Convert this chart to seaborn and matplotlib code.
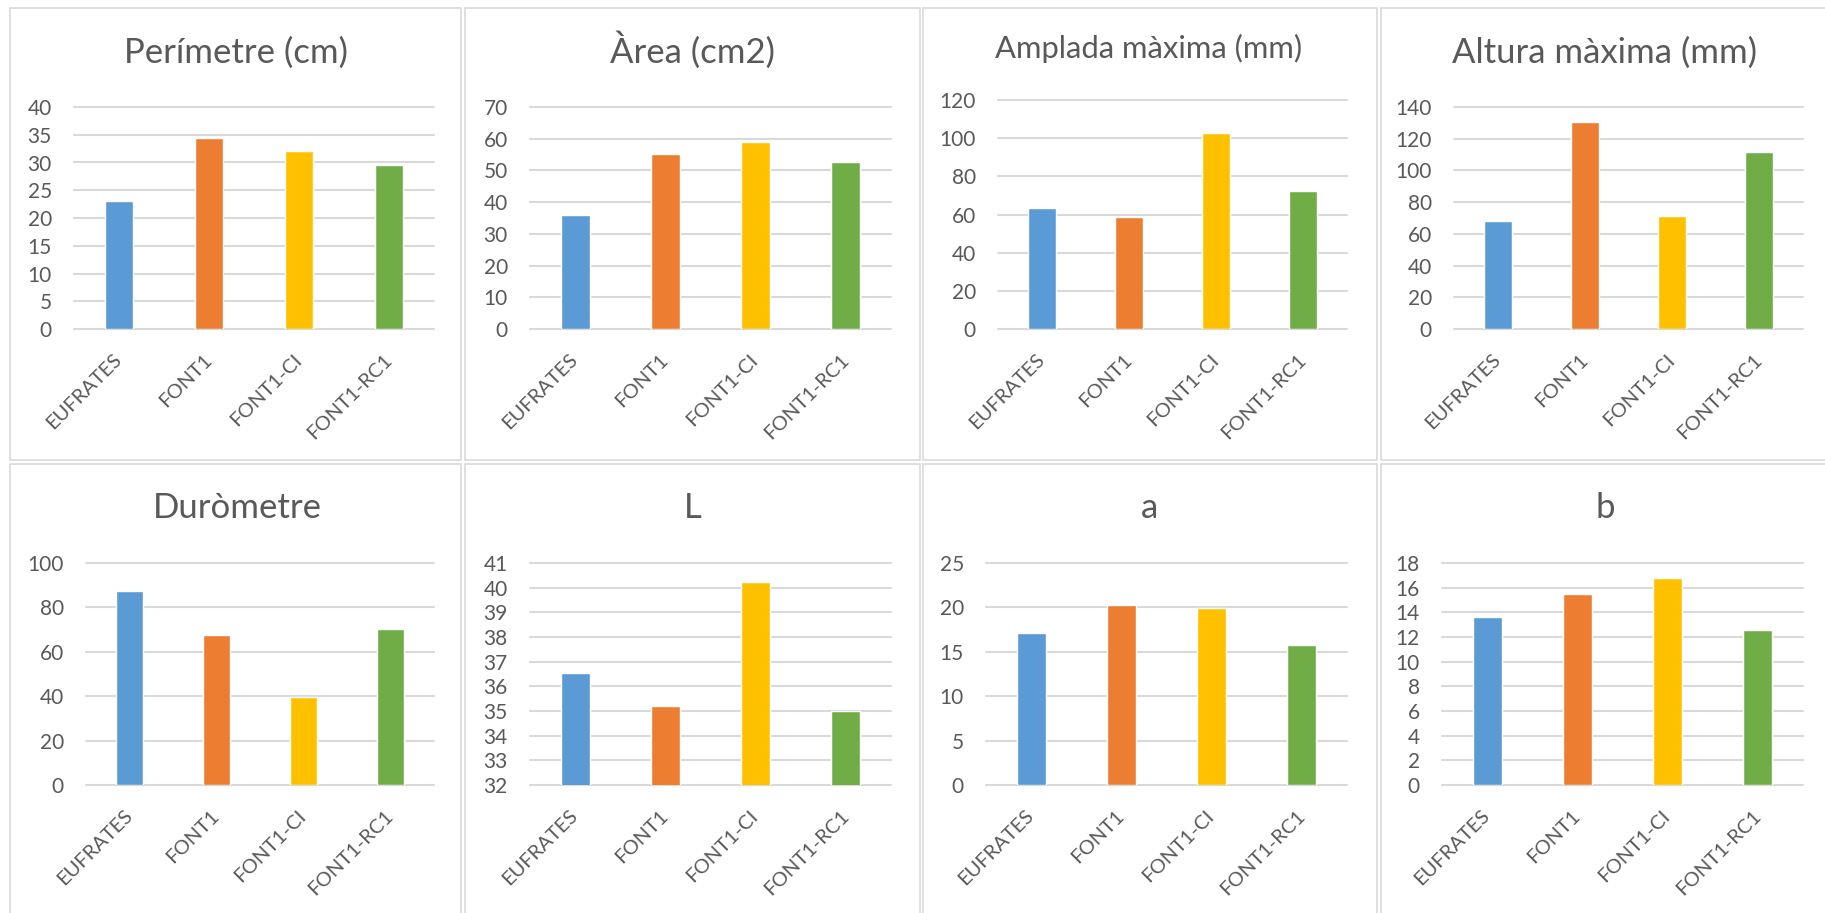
import matplotlib
matplotlib.use("Agg")
import matplotlib.pyplot as plt
from matplotlib.patches import Rectangle
import seaborn as sns
import pandas as pd

# ---- data ----
categories = ["EUFRATES", "FONT1", "FONT1-CI", "FONT1-RC1"]
perimetre = [23.0, 34.4, 32.0, 29.5]
area = [35.9, 55.1, 58.9, 52.6]
amplada = [63.4, 58.7, 102.7, 72.3]
altura = [68.0, 130.3, 71.2, 111.5]
durometre = [87.3, 67.5, 39.7, 70.2]
lum_L = [36.53, 35.2, 40.22, 35.0]
chroma_a = [17.1, 20.24, 19.9, 15.74]
chroma_b = [13.6, 15.46, 16.76, 12.55]

titles = ["Perímetre (cm)", "Àrea (cm2)", "Amplada màxima (mm)", "Altura màxima (mm)",
          "Duròmetre", "L", "a", "b"]
series = [perimetre, area, amplada, altura, durometre, lum_L, chroma_a, chroma_b]
yranges = [(0, 40, 5), (0, 70, 10), (0, 120, 20), (0, 140, 20),
           (0, 100, 20), (32, 41, 1), (0, 25, 5), (0, 18, 2)]

colors = ["#5B9BD5", "#ED7D31", "#FFC000", "#70AD47"]

sns.set_theme(style="white")
plt.rcParams["font.family"] = ["Lato", "DejaVu Sans"]
TEXT = "#595959"
GRID = "#D9D9D9"

W, H = 1825, 913
fig = plt.figure(figsize=(W / 100, H / 100), dpi=100)
fig.patch.set_facecolor("white")

# plot-area boxes in pixels: (left, right, top, bottom)
plot_boxes = [
    (74, 434, 107, 329), (530, 891, 107, 329), (998, 1347, 100, 329), (1454, 1803, 107, 329),
    (86, 434, 563, 785), (530, 891, 563, 785), (986, 1347, 563, 785), (1442, 1803, 563, 785),
]
# title centre x, baseline y, font size
title_pos = [
    (236, 63, 25), (693, 63, 25), (1149, 58, 22.3), (1605, 63, 25),
    (237, 518, 25), (693, 518, 25), (1149, 518, 25), (1605, 518, 25),
]
# chart frames: (left, right, top, bottom)
frames = [
    (10, 461, 8, 460), (465, 920, 8, 460), (923, 1377, 8, 460), (1381, 1830, 8, 460),
    (10, 461, 464, 920), (465, 920, 464, 920), (923, 1377, 464, 920), (1381, 1830, 464, 920),
]

for (fx0, fx1, fy0, fy1) in frames:
    fig.add_artist(Rectangle((fx0 / W, 1 - fy1 / H), (fx1 - fx0) / W, (fy1 - fy0) / H,
                             transform=fig.transFigure, fill=False,
                             edgecolor=GRID, linewidth=1.2))

for i in range(8):
    x0, x1, yt, yb = plot_boxes[i]
    ax = fig.add_axes([x0 / W, 1 - yb / H, (x1 - x0) / W, (yb - yt) / H])
    df = pd.DataFrame({"cat": categories, "val": series[i]})
    sns.barplot(data=df, x="cat", y="val", hue="cat", palette=colors,
                width=0.32, legend=False, ax=ax, saturation=1)
    lo, hi, step = yranges[i]
    ax.set_ylim(lo, hi)
    ax.set_xlim(-0.5, 3.5)
    ax.set_yticks(list(range(lo, hi + 1, step)))
    ax.set_axisbelow(True)
    ax.yaxis.grid(True, color=GRID, linewidth=1.5)
    for gl in ax.get_ygridlines():
        gl.set_clip_on(False)
    for s in ax.spines.values():
        s.set_visible(False)
    ax.set_xlabel("")
    ax.set_ylabel("")
    ax.tick_params(axis="y", length=0, pad=16, labelsize=15, labelcolor=TEXT)
    ax.tick_params(axis="x", length=0, pad=20, labelsize=14.5, labelcolor=TEXT)
    for lab in ax.get_xticklabels():
        lab.set_rotation(45)
        lab.set_ha("right")
        lab.set_va("center")
        lab.set_rotation_mode("anchor")
    ax.patch.set_alpha(0)
    tx, ty, ts = title_pos[i]
    fig.text(tx / W, 1 - ty / H, titles[i], ha="center", va="baseline",
             fontsize=ts, color=TEXT)

fig.savefig("out.png", dpi=100, facecolor="white")
